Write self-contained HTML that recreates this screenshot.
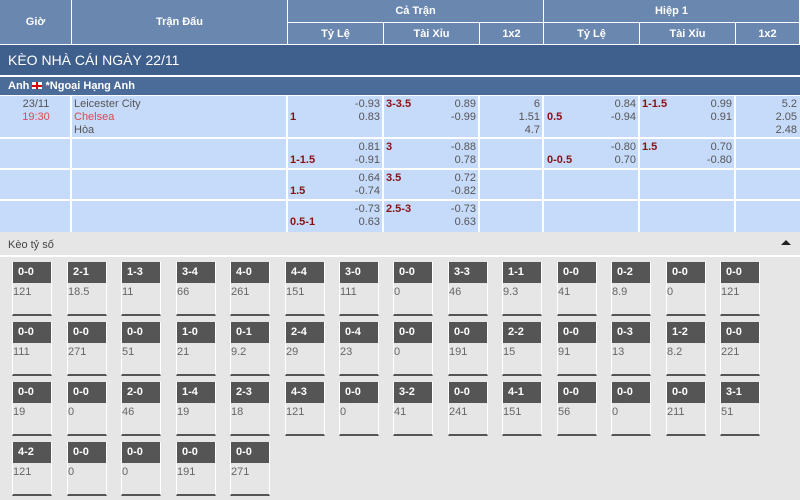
<!DOCTYPE html>
<html><head><meta charset="utf-8"><style>
*{margin:0;padding:0;box-sizing:border-box}
body{width:800px;height:500px;background:#e6e6e6;font-family:"Liberation Sans","DejaVu Sans",sans-serif;font-size:11px;color:#555;position:relative;overflow:hidden}
.a{position:absolute}
.h{background:#6a87b0;color:#fff;font-weight:bold;font-size:11px;display:flex;align-items:center;justify-content:center;border-right:1px solid #fff;border-bottom:1px solid #fff}
.r{background:#c6dafa;border-right:2px solid #fff;border-bottom:2px solid #fff}
.t{position:absolute;line-height:13px;font-size:11px}
.red{color:#8b1010;font-weight:bold}
.c{position:absolute;width:40px;height:54px;border-left:1px solid #fff;border-right:1px solid #fff;border-bottom:2px solid #555}
.c b{display:block;background:#555;color:#fff;height:21px;line-height:21px;padding-left:5px;font-size:11px}
.c i{display:block;font-style:normal;color:#666;padding-top:3px;font-size:11px}
</style></head><body>
<div class="a h" style="left:0;top:0;width:72px;height:45px">Giờ</div>
<div class="a h" style="left:72px;top:0;width:216px;height:45px">Trận Đấu</div>
<div class="a h" style="left:288px;top:0;width:256px;height:23px">Cả Trận</div>
<div class="a h" style="left:544px;top:0;width:256px;height:23px">Hiệp 1</div>
<div class="a h" style="left:288px;top:23px;width:96px;height:22px">Tỷ Lệ</div>
<div class="a h" style="left:384px;top:23px;width:96px;height:22px">Tài Xỉu</div>
<div class="a h" style="left:480px;top:23px;width:64px;height:22px">1x2</div>
<div class="a h" style="left:544px;top:23px;width:96px;height:22px">Tỷ Lệ</div>
<div class="a h" style="left:640px;top:23px;width:96px;height:22px">Tài Xỉu</div>
<div class="a h" style="left:736px;top:23px;width:64px;height:22px">1x2</div>
<div class="a" style="left:0;top:45px;width:800px;height:30px;background:#3f5f8c;color:#fff;font-size:14px;line-height:30px;padding-left:8px">KÈO NHÀ CÁI NGÀY 22/11</div>
<div class="a" style="left:0;top:75px;width:800px;height:2px;background:#fff"></div>
<div class="a" style="left:0;top:77px;width:800px;height:18px;background:#4b6b98;color:#fff;font-weight:bold;line-height:18px;padding-left:8px">Anh <span style="display:inline-block;width:10px;height:7px;background:#fff;position:relative;vertical-align:0"><span style="position:absolute;left:4px;top:0;width:2px;height:7px;background:#d00"></span><span style="position:absolute;left:0;top:2.5px;width:10px;height:2px;background:#d00"></span></span> *Ngoại Hạng Anh</div>
<div class="a" style="left:0;top:95px;width:800px;height:1px;background:#fff"></div>
<div class="a" style="left:0;top:96px;width:800px;height:136px">
<div class="a r" style="left:0;top:0;width:72px;height:43px"></div>
<div class="a r" style="left:72px;top:0;width:216px;height:43px"></div>
<div class="a r" style="left:288px;top:0;width:96px;height:43px"></div>
<div class="a r" style="left:384px;top:0;width:96px;height:43px"></div>
<div class="a r" style="left:480px;top:0;width:64px;height:43px"></div>
<div class="a r" style="left:544px;top:0;width:96px;height:43px"></div>
<div class="a r" style="left:640px;top:0;width:96px;height:43px"></div>
<div class="a r" style="left:736px;top:0;width:64px;height:43px;border-right:0"></div>
<div class="a r" style="left:0;top:43px;width:72px;height:31px"></div>
<div class="a r" style="left:72px;top:43px;width:216px;height:31px"></div>
<div class="a r" style="left:288px;top:43px;width:96px;height:31px"></div>
<div class="a r" style="left:384px;top:43px;width:96px;height:31px"></div>
<div class="a r" style="left:480px;top:43px;width:64px;height:31px"></div>
<div class="a r" style="left:544px;top:43px;width:96px;height:31px"></div>
<div class="a r" style="left:640px;top:43px;width:96px;height:31px"></div>
<div class="a r" style="left:736px;top:43px;width:64px;height:31px;border-right:0"></div>
<div class="a r" style="left:0;top:74px;width:72px;height:31px"></div>
<div class="a r" style="left:72px;top:74px;width:216px;height:31px"></div>
<div class="a r" style="left:288px;top:74px;width:96px;height:31px"></div>
<div class="a r" style="left:384px;top:74px;width:96px;height:31px"></div>
<div class="a r" style="left:480px;top:74px;width:64px;height:31px"></div>
<div class="a r" style="left:544px;top:74px;width:96px;height:31px"></div>
<div class="a r" style="left:640px;top:74px;width:96px;height:31px"></div>
<div class="a r" style="left:736px;top:74px;width:64px;height:31px;border-right:0"></div>
<div class="a r" style="left:0;top:105px;width:72px;height:31px;border-bottom:0"></div>
<div class="a r" style="left:72px;top:105px;width:216px;height:31px;border-bottom:0"></div>
<div class="a r" style="left:288px;top:105px;width:96px;height:31px;border-bottom:0"></div>
<div class="a r" style="left:384px;top:105px;width:96px;height:31px;border-bottom:0"></div>
<div class="a r" style="left:480px;top:105px;width:64px;height:31px;border-bottom:0"></div>
<div class="a r" style="left:544px;top:105px;width:96px;height:31px;border-bottom:0"></div>
<div class="a r" style="left:640px;top:105px;width:96px;height:31px;border-bottom:0"></div>
<div class="a r" style="left:736px;top:105px;width:64px;height:31px;border:0"></div>
</div>
<div class="t" style="left:0;width:72px;text-align:center;top:98px">23/11<br><span style="color:#e0474f">19:30</span></div>
<div class="t" style="left:74px;top:98px">Leicester City<br><span style="color:#e0474f">Chelsea</span><br>Hòa</div>
<div class="t red" style="left:290px;top:111px">1</div>
<div class="t" style="left:288px;width:92px;text-align:right;top:98px">-0.93<br>0.83</div>
<div class="t red" style="left:386px;top:98px">3-3.5</div>
<div class="t" style="left:384px;width:92px;text-align:right;top:98px">0.89<br>-0.99</div>
<div class="t" style="left:480px;width:60px;text-align:right;top:98px">6<br>1.51<br>4.7</div>
<div class="t red" style="left:547px;top:111px">0.5</div>
<div class="t" style="left:544px;width:92px;text-align:right;top:98px">0.84<br>-0.94</div>
<div class="t red" style="left:642px;top:98px">1-1.5</div>
<div class="t" style="left:640px;width:92px;text-align:right;top:98px">0.99<br>0.91</div>
<div class="t" style="left:736px;width:61px;text-align:right;top:98px">5.2<br>2.05<br>2.48</div>
<div class="t red" style="left:290px;top:154px">1-1.5</div>
<div class="t" style="left:288px;width:92px;text-align:right;top:141px">0.81<br>-0.91</div>
<div class="t red" style="left:386px;top:141px">3</div>
<div class="t" style="left:384px;width:92px;text-align:right;top:141px">-0.88<br>0.78</div>
<div class="t red" style="left:547px;top:154px">0-0.5</div>
<div class="t" style="left:544px;width:92px;text-align:right;top:141px">-0.80<br>0.70</div>
<div class="t red" style="left:642px;top:141px">1.5</div>
<div class="t" style="left:640px;width:92px;text-align:right;top:141px">0.70<br>-0.80</div>
<div class="t red" style="left:290px;top:185px">1.5</div>
<div class="t" style="left:288px;width:92px;text-align:right;top:172px">0.64<br>-0.74</div>
<div class="t red" style="left:386px;top:172px">3.5</div>
<div class="t" style="left:384px;width:92px;text-align:right;top:172px">0.72<br>-0.82</div>
<div class="t red" style="left:290px;top:216px">0.5-1</div>
<div class="t" style="left:288px;width:92px;text-align:right;top:203px">-0.73<br>0.63</div>
<div class="t red" style="left:386px;top:203px">2.5-3</div>
<div class="t" style="left:384px;width:92px;text-align:right;top:203px">-0.73<br>0.63</div>
<div class="t" style="left:8px;top:239px;font-size:11px;color:#444">Kèo tỷ số</div>
<div class="a" style="left:781px;top:240px;width:0;height:0;border-left:5px solid transparent;border-right:5px solid transparent;border-bottom:5px solid #222"></div>
<div class="a" style="left:0;top:255px;width:800px;height:2px;background:#fff"></div>

<div class="c" style="left:12px;top:262px"><b>0-0</b><i>121</i></div>
<div class="c" style="left:67px;top:262px"><b>2-1</b><i>18.5</i></div>
<div class="c" style="left:121px;top:262px"><b>1-3</b><i>11</i></div>
<div class="c" style="left:176px;top:262px"><b>3-4</b><i>66</i></div>
<div class="c" style="left:230px;top:262px"><b>4-0</b><i>261</i></div>
<div class="c" style="left:285px;top:262px"><b>4-4</b><i>151</i></div>
<div class="c" style="left:339px;top:262px"><b>3-0</b><i>111</i></div>
<div class="c" style="left:393px;top:262px"><b>0-0</b><i>0</i></div>
<div class="c" style="left:448px;top:262px"><b>3-3</b><i>46</i></div>
<div class="c" style="left:502px;top:262px"><b>1-1</b><i>9.3</i></div>
<div class="c" style="left:557px;top:262px"><b>0-0</b><i>41</i></div>
<div class="c" style="left:611px;top:262px"><b>0-2</b><i>8.9</i></div>
<div class="c" style="left:666px;top:262px"><b>0-0</b><i>0</i></div>
<div class="c" style="left:720px;top:262px"><b>0-0</b><i>121</i></div>

<div class="c" style="left:12px;top:322px"><b>0-0</b><i>111</i></div>
<div class="c" style="left:67px;top:322px"><b>0-0</b><i>271</i></div>
<div class="c" style="left:121px;top:322px"><b>0-0</b><i>51</i></div>
<div class="c" style="left:176px;top:322px"><b>1-0</b><i>21</i></div>
<div class="c" style="left:230px;top:322px"><b>0-1</b><i>9.2</i></div>
<div class="c" style="left:285px;top:322px"><b>2-4</b><i>29</i></div>
<div class="c" style="left:339px;top:322px"><b>0-4</b><i>23</i></div>
<div class="c" style="left:393px;top:322px"><b>0-0</b><i>0</i></div>
<div class="c" style="left:448px;top:322px"><b>0-0</b><i>191</i></div>
<div class="c" style="left:502px;top:322px"><b>2-2</b><i>15</i></div>
<div class="c" style="left:557px;top:322px"><b>0-0</b><i>91</i></div>
<div class="c" style="left:611px;top:322px"><b>0-3</b><i>13</i></div>
<div class="c" style="left:666px;top:322px"><b>1-2</b><i>8.2</i></div>
<div class="c" style="left:720px;top:322px"><b>0-0</b><i>221</i></div>

<div class="c" style="left:12px;top:382px"><b>0-0</b><i>19</i></div>
<div class="c" style="left:67px;top:382px"><b>0-0</b><i>0</i></div>
<div class="c" style="left:121px;top:382px"><b>2-0</b><i>46</i></div>
<div class="c" style="left:176px;top:382px"><b>1-4</b><i>19</i></div>
<div class="c" style="left:230px;top:382px"><b>2-3</b><i>18</i></div>
<div class="c" style="left:285px;top:382px"><b>4-3</b><i>121</i></div>
<div class="c" style="left:339px;top:382px"><b>0-0</b><i>0</i></div>
<div class="c" style="left:393px;top:382px"><b>3-2</b><i>41</i></div>
<div class="c" style="left:448px;top:382px"><b>0-0</b><i>241</i></div>
<div class="c" style="left:502px;top:382px"><b>4-1</b><i>151</i></div>
<div class="c" style="left:557px;top:382px"><b>0-0</b><i>56</i></div>
<div class="c" style="left:611px;top:382px"><b>0-0</b><i>0</i></div>
<div class="c" style="left:666px;top:382px"><b>0-0</b><i>211</i></div>
<div class="c" style="left:720px;top:382px"><b>3-1</b><i>51</i></div>

<div class="c" style="left:12px;top:442px"><b>4-2</b><i>121</i></div>
<div class="c" style="left:67px;top:442px"><b>0-0</b><i>0</i></div>
<div class="c" style="left:121px;top:442px"><b>0-0</b><i>0</i></div>
<div class="c" style="left:176px;top:442px"><b>0-0</b><i>191</i></div>
<div class="c" style="left:230px;top:442px"><b>0-0</b><i>271</i></div>
</body></html>
